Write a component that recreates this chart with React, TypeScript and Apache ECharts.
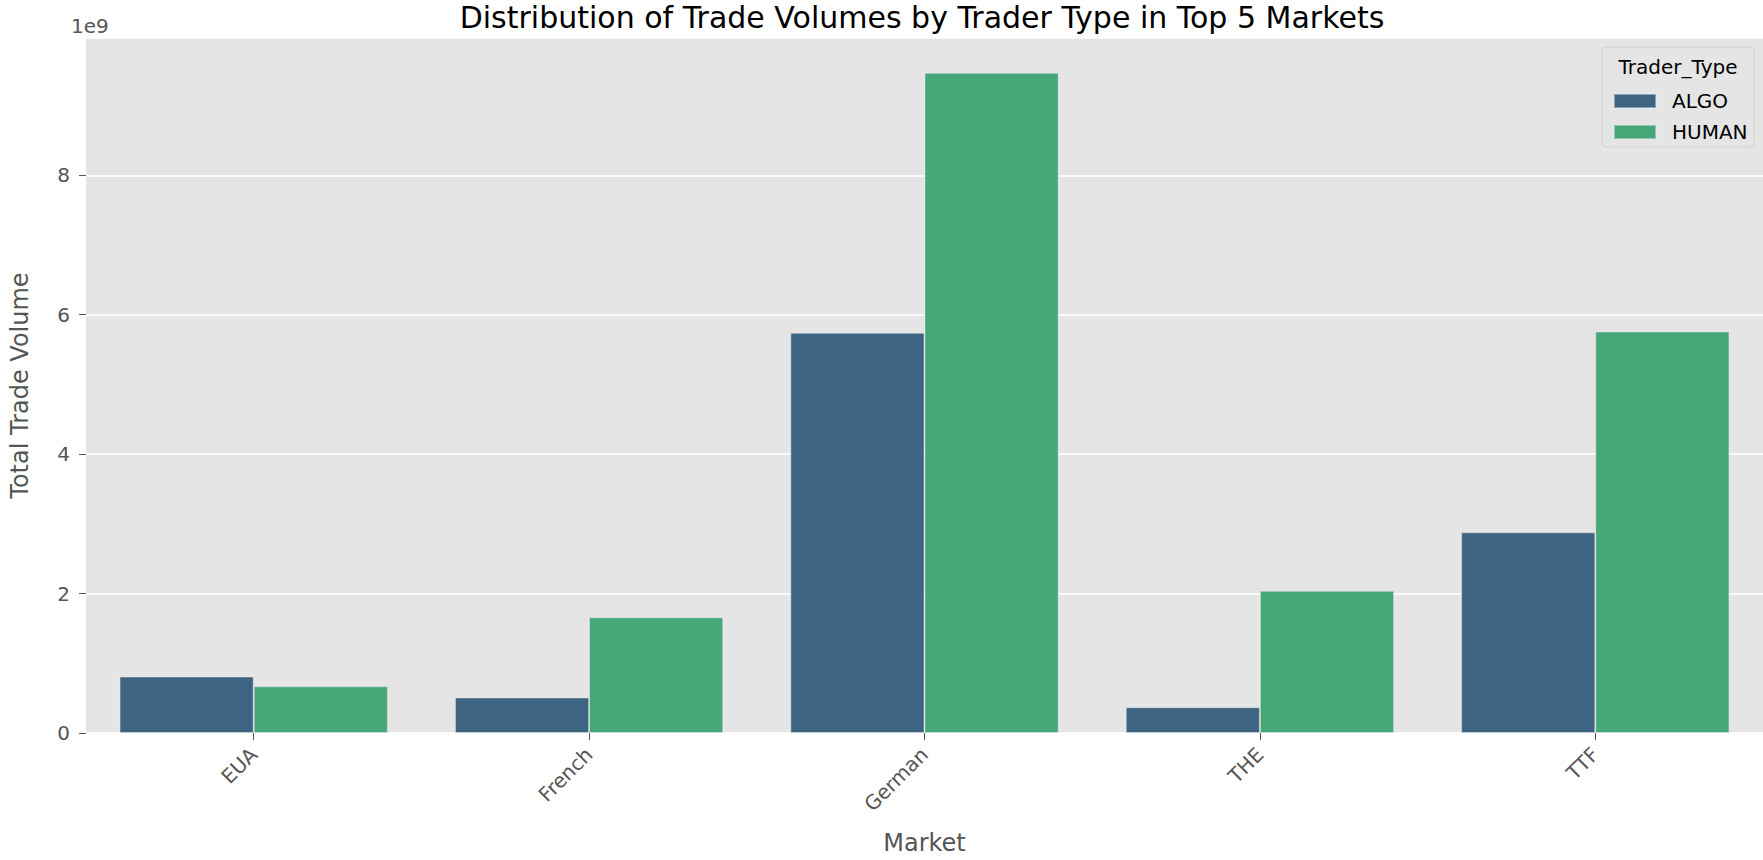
import React, { useEffect, useRef } from "react";
import * as echarts from "echarts";

const markets = ["EUA", "French", "German", "THE", "TTF"];
const algoVolumes = [0.81e9, 0.51e9, 5.74e9, 0.37e9, 2.88e9];
const humanVolumes = [0.67e9, 1.66e9, 9.47e9, 2.04e9, 5.76e9];
const seriesNames = ["ALGO", "HUMAN"];
const seriesColors = ["#3d6482", "#46a778"];
const yTickStep = 2e9;
const yMax = 9.97e9;

export default function App() {
  const ref = useRef<HTMLDivElement>(null);
  useEffect(() => {
    if (!ref.current) return;
    const chart = echarts.init(ref.current, undefined, { renderer: "svg" });
    const font = "DejaVu Sans";
    const gridLeft = 71;
    const gridTop = 38;
    const gridBottom = 127;
    chart.setOption({
      animation: false,
      backgroundColor: "#ffffff",
      textStyle: { fontFamily: font },
      title: {
        text: "Distribution of Trade Volumes by Trader Type in Top 5 Markets",
        left: 917,
        textAlign: "center",
        top: -3,
        textStyle: { fontFamily: font, fontSize: 30, fontWeight: "normal", color: "#000000" },
      },
      grid: {
        left: gridLeft,
        right: 0,
        top: gridTop,
        bottom: gridBottom,
        show: true,
        backgroundColor: "#e5e5e5",
        borderWidth: 0,
        containLabel: false,
      },
      legend: {
        orient: "vertical",
        left: 1608,
        top: 86,
        z: 10,
        itemWidth: 42,
        itemHeight: 14,
        itemGap: 11,
        icon: "rect",
        data: seriesNames,
        textStyle: { fontFamily: font, fontSize: 20, color: "#000000", padding: [0, 0, 0, 11] },
      },
      graphic: [
        {
          type: "rect",
          z: 5,
          shape: { x: 1602, y: 47, width: 152, height: 100, r: 4 },
          style: { fill: "#e5e5e5", stroke: "#d2d2d2", lineWidth: 1 },
        },
        {
          type: "text",
          z: 6,
          x: 1678,
          y: 67,
          style: {
            text: "Trader_Type",
            fontFamily: font,
            fontSize: 20,
            fill: "#000000",
            align: "center",
            verticalAlign: "middle",
          },
        },
        {
          type: "text",
          x: gridLeft,
          y: 36,
          style: {
            text: "1e9",
            fontFamily: font,
            fontSize: 20,
            fill: "#555555",
            align: "left",
            verticalAlign: "bottom",
          },
        },
      ],
      xAxis: {
        type: "category",
        data: markets,
        boundaryGap: true,
        name: "Market",
        nameLocation: "middle",
        nameGap: 98,
        nameTextStyle: { fontFamily: font, fontSize: 24, color: "#555555" },
        axisLine: { show: false },
        axisTick: { show: true, alignWithLabel: true, length: 7, lineStyle: { color: "#555555" } },
        axisLabel: { rotate: 45, margin: 18, fontFamily: font, fontSize: 20, color: "#555555" },
        splitLine: { show: false },
      },
      yAxis: {
        type: "value",
        min: 0,
        max: yMax,
        interval: yTickStep,
        name: "Total Trade Volume",
        nameLocation: "middle",
        nameGap: 54,
        nameTextStyle: { fontFamily: font, fontSize: 24, color: "#555555" },
        axisLine: { show: false },
        axisTick: { show: true, length: 7, lineStyle: { color: "#555555" } },
        axisLabel: {
          margin: 16,
          fontFamily: font,
          fontSize: 20,
          color: "#555555",
          showMaxLabel: false,
          formatter: (v: number) => (Math.abs(v / yTickStep - Math.round(v / yTickStep)) < 1e-6 ? String(Math.round(v / 1e9)) : ""),
        },
        splitLine: { show: true, lineStyle: { color: "#ffffff", width: 1.5 } },
      },
      series: [
        {
          name: seriesNames[0],
          type: "bar",
          data: algoVolumes,
          barGap: "0%",
          barCategoryGap: "20%",
          itemStyle: { color: seriesColors[0], borderColor: "rgba(238,238,238,0.45)", borderWidth: 1 },
        },
        {
          name: seriesNames[1],
          type: "bar",
          data: humanVolumes,
          barGap: "0%",
          barCategoryGap: "20%",
          itemStyle: { color: seriesColors[1], borderColor: "rgba(238,238,238,0.45)", borderWidth: 1 },
        },
      ],
    });
    return () => chart.dispose();
  }, []);
  return (
    <div
      ref={ref}
      style={{ position: "fixed", left: 0, top: 0, width: 1763, height: 860 }}
    />
  );
}
